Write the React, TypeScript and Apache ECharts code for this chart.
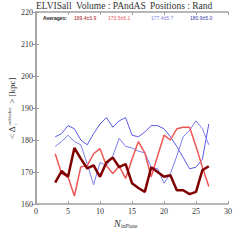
import React, { useEffect, useRef } from "react";
import * as echarts from "echarts";

const nInPlane = [3, 4, 5, 6, 7, 8, 9, 10, 11, 12, 13, 14, 15, 16, 17, 18, 19, 20, 21, 22, 23, 24, 25, 26, 27];
const darkRedValues = [166.7, 170.3, 168.5, 177.5, 174.2, 171.1, 172.1, 168.5, 173, 174.5, 171.5, 172.5, 166.5, 165, 163.8, 171.5, 170, 168.5, 169, 164.3, 164.3, 163.1, 163.8, 170.6, 171.8];
const lightRedValues = [175.7, 169.5, 168.5, 162.5, 171.6, 172, 175.7, 177.3, 172, 169.5, 171.8, 168, 174, 179.5, 176, 168.5, 175, 181.5, 180, 183.5, 184, 184, 178, 171.5, 165.5];
const lightBlueValues = [178, 179.5, 181.5, 179.5, 178.5, 172.5, 166, 173, 172, 175, 180.5, 178, 177.5, 176.5, 176, 171.5, 171, 166.5, 169.5, 175, 181, 183, 186, 183.5, 178.5];
const darkBlueValues = [181, 182, 184.5, 183.5, 180, 178.5, 182, 185, 187, 184, 186, 187, 181.5, 181, 182.5, 184.5, 184.5, 183.5, 181, 178, 174.5, 171, 171.5, 174, 185];
const averageLabels = ["169.4±3.9", "173.5±6.1", "177.4±5.7", "180.9±5.0"];
const titleParts = ["ELVISall", "Volume : PAndAS", "Positions : Rand"];

const SERIF = "'Liberation Serif', 'DejaVu Serif', serif";
const SANS = "'Liberation Sans', 'DejaVu Sans', sans-serif";
const AXIS_COLOR = "#a0a0a0";

function txt(x: number, y: number, text: string, extra: any = {}) {
  return {
    type: "text",
    x,
    y,
    z: 100,
    style: {
      text,
      fontFamily: SERIF,
      fontSize: 9,
      fill: "#333",
      align: "left",
      verticalAlign: "middle",
      ...extra,
    },
  };
}

export default function App() {
  const ref = useRef<HTMLDivElement>(null);
  useEffect(() => {
    if (!ref.current) return;
    const chart = echarts.init(ref.current, undefined, { renderer: "svg" });
    const pairs = (vals: number[]) => nInPlane.map((n, i) => [n, vals[i]]);
    const axisCommon = {
      axisLine: { show: true, lineStyle: { color: AXIS_COLOR, width: 1.5 } },
      axisTick: { show: true, inside: true, length: 3, lineStyle: { color: AXIS_COLOR, width: 1 } },
      splitLine: { show: false },
    };
    const labelStyle = { fontFamily: SERIF, fontSize: 8, color: "#333" };
    chart.setOption({
      animation: false,
      backgroundColor: "#fff",
      grid: { left: 36, right: 12, top: 12, bottom: 36, containLabel: false },
      xAxis: [
        { type: "value", min: 0, max: 30, interval: 5, position: "bottom", ...axisCommon, axisLabel: { ...labelStyle, margin: 3 } },
        { type: "value", min: 0, max: 30, interval: 5, position: "top", ...axisCommon, axisLabel: { show: false } },
      ],
      yAxis: [
        { type: "value", min: 160, max: 220, interval: 10, position: "left", ...axisCommon, axisLabel: { ...labelStyle, margin: 3 } },
        { type: "value", min: 160, max: 220, interval: 10, position: "right", ...axisCommon, axisLabel: { show: false } },
      ],
      series: [
        { type: "line", data: pairs(darkBlueValues), showSymbol: false, lineStyle: { color: "#5a5ae6", width: 1 }, z: 2 },
        { type: "line", data: pairs(lightBlueValues), showSymbol: false, lineStyle: { color: "#7c7cf0", width: 1 }, z: 2 },
        { type: "line", data: pairs(lightRedValues), showSymbol: false, lineStyle: { color: "#f05555", width: 1.5 }, z: 3 },
        { type: "line", data: pairs(darkRedValues), showSymbol: false, lineStyle: { color: "#800000", width: 2.5 }, z: 4 },
      ],
      graphic: [
        txt(36, 6, titleParts[0], { fontSize: 9.5 }),
        txt(76, 6, titleParts[1], { fontSize: 9.5 }),
        txt(150, 6, titleParts[2], { fontSize: 9.5 }),
        txt(43, 18, "Averages:", { fontFamily: SANS, fontSize: 5, fontWeight: "bold", fill: "#222" }),
        txt(74, 18, averageLabels[0], { fontFamily: SANS, fontSize: 5, fill: "#a01515" }),
        txt(108, 18, averageLabels[1], { fontFamily: SANS, fontSize: 5, fill: "#e85a5a" }),
        txt(151, 18, averageLabels[2], { fontFamily: SANS, fontSize: 5, fill: "#8080e6" }),
        txt(190, 18, averageLabels[3], { fontFamily: SANS, fontSize: 5, fill: "#3535a8" }),
        {
          type: "group",
          x: 12,
          y: 106,
          rotation: Math.PI / 2,
          children: [
            txt(-33, 0, "< Δ"),
            txt(-19, -3, "subhalos", { fontSize: 5 }),
            txt(-19, 3, "r", { fontSize: 5 }),
            txt(0, 0, " > [kpc]"),
          ],
        },
        txt(114, 223, "N", { fontStyle: "italic", fontSize: 10 }),
        txt(121, 226, "inPlane", { fontSize: 5.5 }),
      ],
    });
    return () => chart.dispose();
  }, []);
  return <div ref={ref} style={{ width: 240, height: 240, position: "absolute", left: 0, top: 0 }} />;
}
